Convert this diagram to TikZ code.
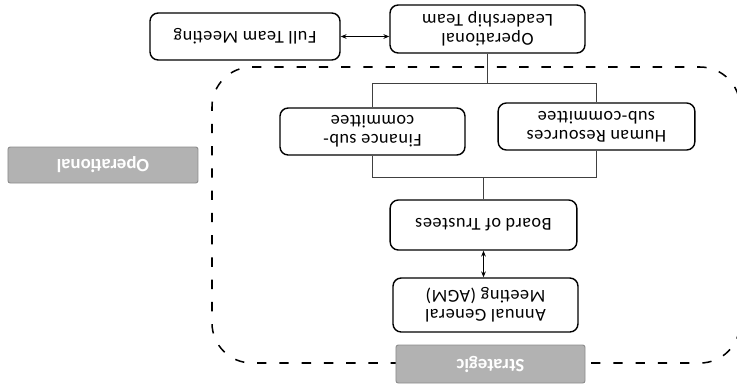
\documentclass[tikz,border=0pt]{standalone}
\usepackage{fontspec}
\setmainfont{Carlito}
\usetikzlibrary{arrows.meta}

\begin{document}
\begin{tikzpicture}[
    x=0.03cm, y=0.03cm,
    rotate=180, transform shape,
    orgbox/.style={draw, line width=1.2pt, rounded corners=7pt, align=center,
      inner sep=2pt, font=\fontsize{15.5}{16}\selectfont\addfontfeature{LetterSpace=3}},
    zonetag/.style={fill=gray!60, draw=gray!90, line width=0.8pt, rounded corners=2pt,
      text=white, font=\fontsize{16}{18}\selectfont\bfseries},
    zone/.style={line width=1.3pt, dash pattern=on 8pt off 11pt, rounded corners=1.2cm},
    link/.style={draw=black!75, line width=0.5pt},
    both/.style={{Stealth[length=5pt,width=4pt]}-{Stealth[length=5pt,width=4pt]}, line width=0.8pt}
  ]
  \useasboundingbox (0,0) rectangle (737,385);
  \clip (0,0) rectangle (737,385);

  % Strategic / operational zone
  \draw[zone] (-3,67) rectangle (525,363);

  \node[zonetag, minimum width=5.67cm, minimum height=1.14cm] (strat) at (246.5,364) {Strategic};
  \node[zonetag, minimum width=5.7cm, minimum height=1.08cm] (oper) at (634,165) {Operational};

  % Boxes
  \node[orgbox, minimum width=5.55cm, minimum height=1.62cm] (agm) at (251.5,305) {Annual General\\Meeting (AGM)};
  \node[orgbox, minimum width=5.6cm, minimum height=1.5cm] (board) at (253.5,225) {Board of Trustees};
  \node[orgbox, minimum width=5.9cm, minimum height=1.41cm] (hr) at (140.5,126.5) {Human Resources\\sub-committee};
  \node[orgbox, minimum width=5.55cm, minimum height=1.41cm] (fin) at (364.5,131.5) {Finance sub-\\committee};
  \node[orgbox, minimum width=5.85cm, minimum height=1.44cm] (olt) at (249.5,29) {Operational\\Leadership Team};
  \node[orgbox, minimum width=5.7cm, minimum height=1.41cm] (ftm) at (492,36.5) {Full Team Meeting};

  % Connectors
  \coordinate (upbar) at (0,177);
  \coordinate (lowbar) at (0,83);
  \draw[both] (board.north) -- (board.north |- agm.south);
  \draw[link] (board.south) -- (board.south |- upbar);
  \draw[link] (fin.north) |- (upbar -| hr.north) -- (hr.north);
  \draw[link] (fin.south) |- (lowbar -| hr.south) -- (hr.south);
  \draw[link] (olt.north) -- (olt.north |- lowbar);
  \draw[both] (ftm.west) -- (ftm.west -| olt.east);
\end{tikzpicture}
\end{document}
